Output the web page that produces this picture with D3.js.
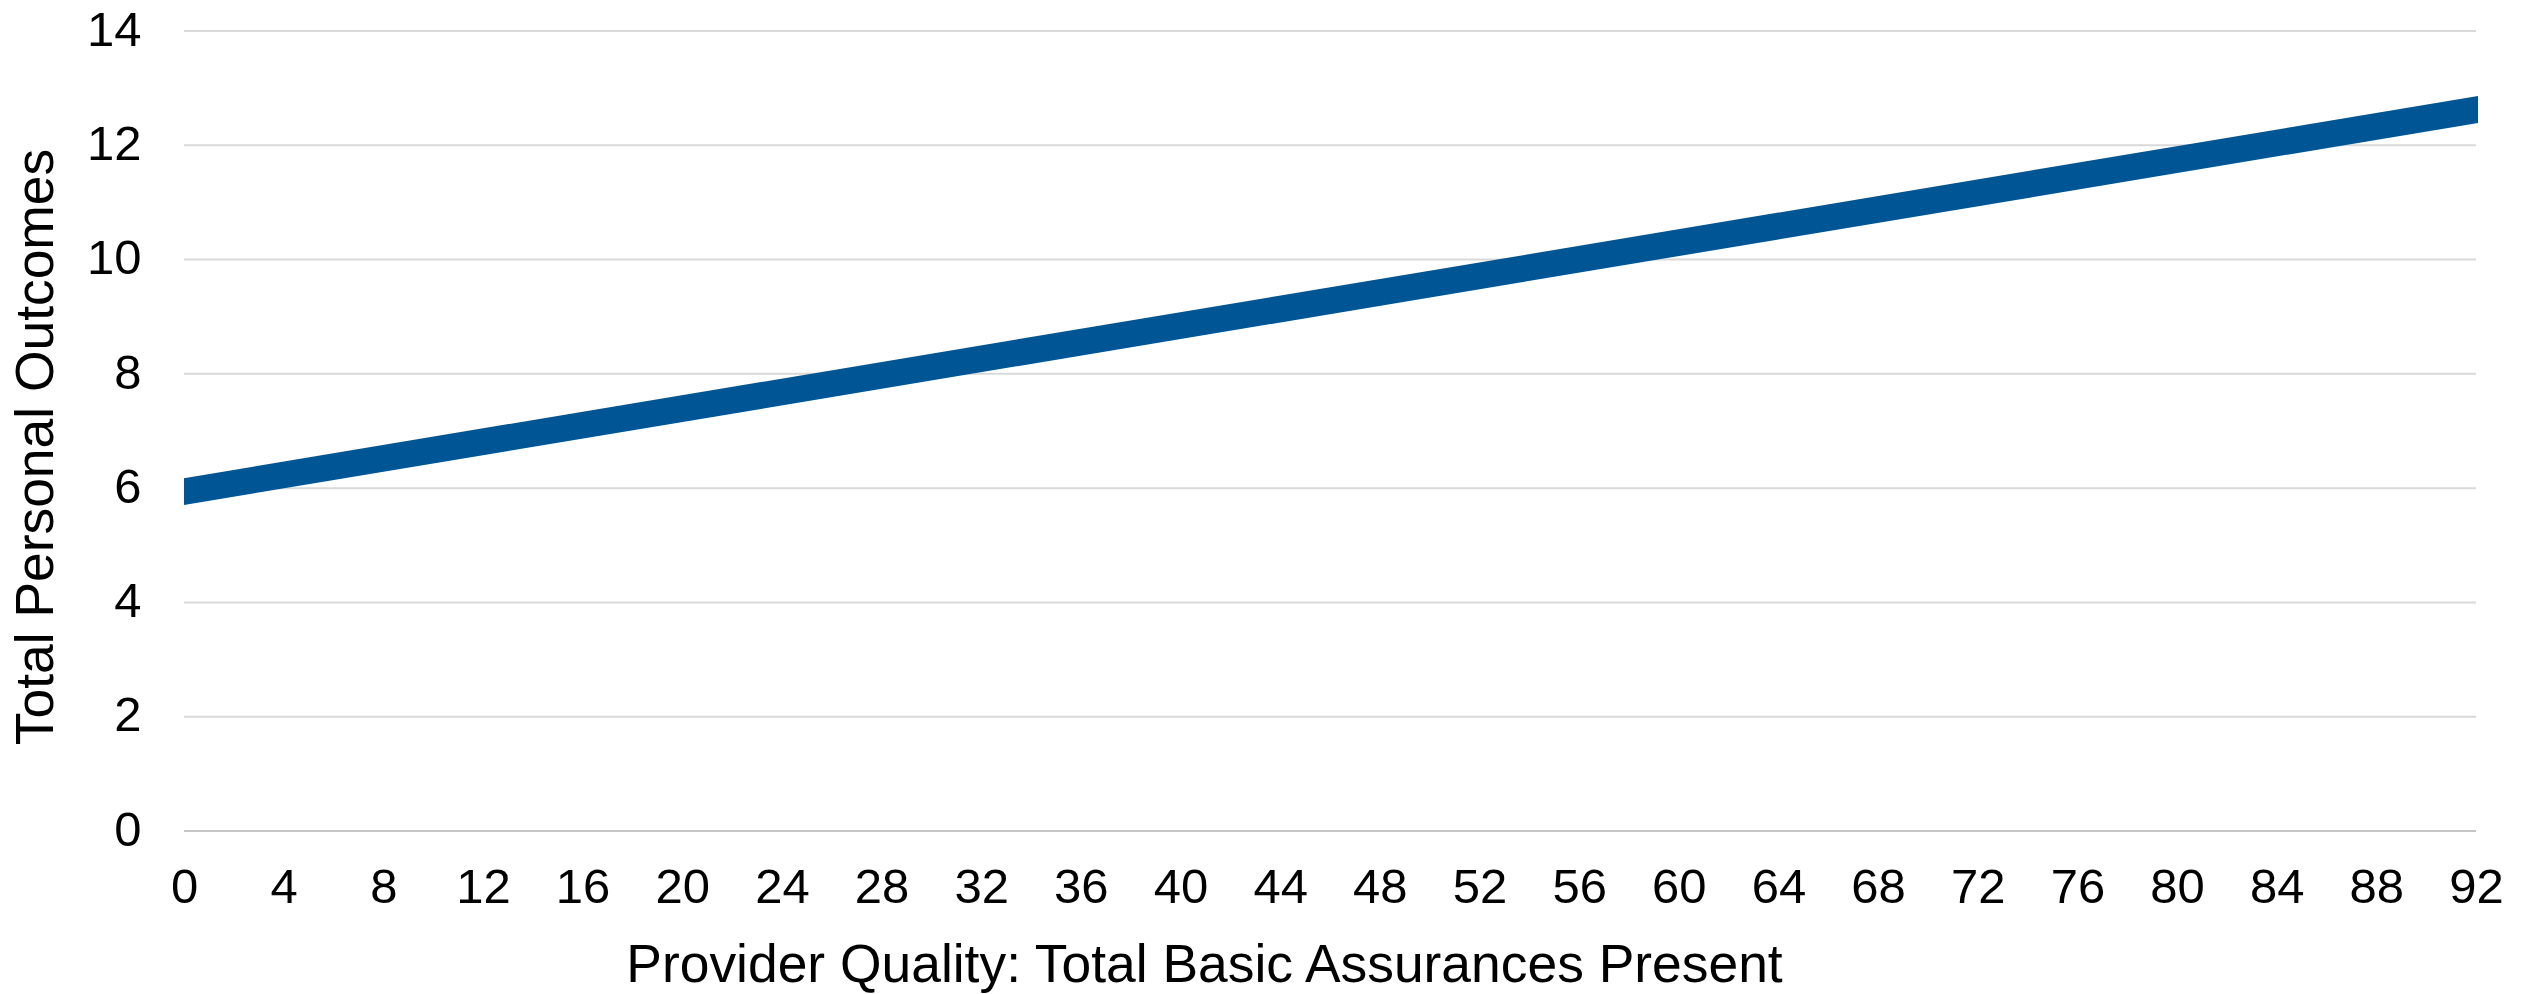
<!DOCTYPE html>
<html>
<head>
<meta charset="utf-8">
<script src="https://cdn.jsdelivr.net/npm/d3@7"></script>
<style>
  html, body { margin: 0; padding: 0; background: #fff; }
  svg { display: block; font-family: "Liberation Sans", Arial, sans-serif; }
</style>
</head>
<body>
<svg id="chart" width="2526" height="994"></svg>
<script>
// Data
const xValues = [0, 92];
const yValues = [5.94, 12.62];
const xTicks = d3.range(0, 93, 4);
const yTicks = [0, 2, 4, 6, 8, 10, 12, 14];
const xTitle = "Provider Quality: Total Basic Assurances Present";
const yTitle = "Total Personal Outcomes";

(function () {
const svg = d3.select("#chart");
const mLeft = 184, mRight = 2476, mTop = 31, mBottom = 831;

const x = d3.scaleLinear().domain([0, 92]).range([mLeft, mRight]);
const y = d3.scaleLinear().domain([0, 14]).range([mBottom, mTop]);

// gridlines
svg.append("g").selectAll("line").data(yTicks).join("line")
  .attr("x1", mLeft).attr("x2", mRight)
  .attr("y1", d => y(d)).attr("y2", d => y(d))
  .attr("stroke", d => d === 0 ? "#c6c6c6" : "#d9d9d9")
  .attr("stroke-width", 2);

// y axis labels
const yAxis = svg.append("g").attr("transform", `translate(141.5,-1.5)`)
  .call(d3.axisLeft(y).tickValues(yTicks).tickSize(0).tickPadding(0));
yAxis.select(".domain").remove();
yAxis.selectAll("text").attr("font-size", 49).attr("fill", "#000")
  .attr("font-family", "Liberation Sans, Arial, sans-serif");

// x axis labels
const xAxis = svg.append("g").attr("transform", `translate(0,${903 - 0.71 * 49})`)
  .call(d3.axisBottom(x).tickValues(xTicks).tickSize(0).tickPadding(0));
xAxis.select(".domain").remove();
xAxis.selectAll("text").attr("font-size", 49).attr("fill", "#000")
  .attr("font-family", "Liberation Sans, Arial, sans-serif");

// clip for line
svg.append("clipPath").attr("id", "clip").append("rect")
  .attr("x", mLeft).attr("y", 0).attr("width", mRight - mLeft + 2).attr("height", 994);

const pts = xValues.map((v, i) => [v, yValues[i]]);
svg.append("path")
  .datum(pts)
  .attr("clip-path", "url(#clip)")
  .attr("d", d3.line().x(d => x(d[0])).y(d => y(d[1])))
  .attr("fill", "none")
  .attr("stroke", "#005595")
  .attr("stroke-width", 26.5)
  .attr("stroke-linecap", "square");

// axis titles
svg.append("text")
  .attr("x", 1204.5).attr("y", 982)
  .attr("text-anchor", "middle")
  .attr("font-size", 53.4).attr("fill", "#000")
  .text(xTitle);

svg.append("text")
  .attr("transform", `translate(53,447) rotate(-90)`)
  .attr("text-anchor", "middle")
  .attr("font-size", 53.4).attr("fill", "#000")
  .text(yTitle);
})();
</script>
</body>
</html>
